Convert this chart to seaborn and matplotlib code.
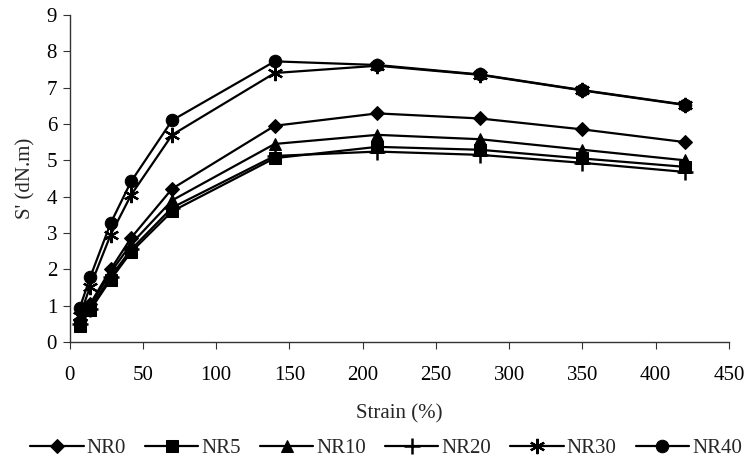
import matplotlib

matplotlib.use("Agg")

import matplotlib.pyplot as plt
import pandas as pd
import seaborn as sns

# ---------------------------------------------------------------------------
# Data
# ---------------------------------------------------------------------------

strain = [7, 14, 28, 42, 70, 140, 210, 280, 350, 420]

nr0 = [0.60, 1.05, 2.00, 2.87, 4.22, 5.95, 6.29, 6.15, 5.85, 5.50]
nr5 = [0.45, 0.88, 1.72, 2.48, 3.60, 5.06, 5.37, 5.29, 5.05, 4.82]
nr10 = [0.55, 1.00, 1.92, 2.70, 3.90, 5.45, 5.70, 5.58, 5.29, 5.00]
nr20 = [0.50, 0.92, 1.80, 2.55, 3.70, 5.12, 5.24, 5.15, 4.93, 4.68]
nr30 = [0.72, 1.53, 2.95, 4.05, 5.70, 7.40, 7.60, 7.35, 6.92, 6.52]
nr40 = [0.95, 1.78, 3.27, 4.42, 6.10, 7.72, 7.62, 7.36, 6.93, 6.53]

series_names = ["NR0", "NR5", "NR10", "NR20", "NR30", "NR40"]
series_values = [nr0, nr5, nr10, nr20, nr30, nr40]

x_ticks = [0, 50, 100, 150, 200, 250, 300, 350, 400, 450]
y_ticks = [0, 1, 2, 3, 4, 5, 6, 7, 8, 9]

# ---------------------------------------------------------------------------
# Style
# ---------------------------------------------------------------------------

_MARKERS = {
    "NR0": dict(marker="D", markersize=7.5),
    "NR5": dict(marker="s", markersize=8),
    "NR10": dict(marker="^", markersize=9),
    "NR20": dict(marker="+", markersize=11, markeredgewidth=1.8),
    "NR30": dict(marker=(6, 2, 0), markersize=11, markeredgewidth=1.6),
    "NR40": dict(marker="o", markersize=9),
}

sns.set_style("ticks")
plt.rcParams.update(
    {
        "font.family": ["Liberation Serif", "DejaVu Serif"],
        "font.size": 15,
        "axes.edgecolor": "#333333",
        "axes.linewidth": 1.0,
        "xtick.color": "#333333",
        "ytick.color": "#333333",
        "xtick.labelcolor": "black",
        "ytick.labelcolor": "black",
        "xtick.major.size": 5,
        "ytick.major.size": 5,
        "xtick.direction": "out",
        "ytick.direction": "out",
    }
)

df = pd.DataFrame(
    {
        "strain": strain * len(series_names),
        "value": [v for vals in series_values for v in vals],
        "series": [n for n in series_names for _ in strain],
    }
)

fig = plt.figure(figsize=(7.46, 4.59), dpi=100)
ax = fig.add_axes([69.6 / 746, 1 - 342.2 / 459, (729 - 69.6) / 746, (342.2 - 14.8) / 459])

for name in series_names:
    sub = df[df["series"] == name]
    sns.lineplot(
        data=sub,
        x="strain",
        y="value",
        color="black",
        linewidth=1.6,
        markeredgecolor="black",
        markerfacecolor="black",
        label=name,
        ax=ax,
        **_MARKERS[name],
    )

ax.set_xlim(0, 450)
ax.set_ylim(0, 9)
ax.set_xticks(x_ticks)
ax.set_yticks(y_ticks)
ax.tick_params(axis="x", pad=12)
ax.tick_params(axis="y", pad=4)
ax.set_xlabel("Strain (%)", labelpad=14)
ax.set_ylabel("S' (dN.m)", labelpad=8)
sns.despine(ax=ax)

ax.legend(
    loc="upper center",
    bbox_to_anchor=(0.48, -0.268),
    ncol=6,
    frameon=False,
    handlelength=2.55,
    handletextpad=0.15,
    columnspacing=0.92,
    borderaxespad=0,
)

fig.savefig("out.png", dpi=100)
